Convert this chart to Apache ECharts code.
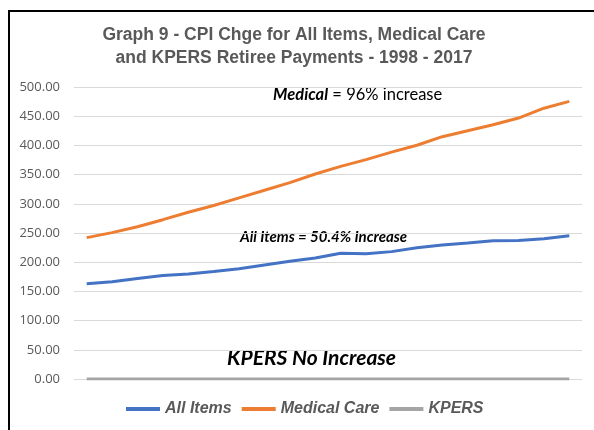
<!DOCTYPE html>
<html>
<head>
<meta charset="utf-8">
<script src="https://cdn.jsdelivr.net/npm/echarts@6/dist/echarts.min.js"></script>
<style>
    html, body { margin: 0; padding: 0; background: #fff; }
    #main { width: 594px; height: 430px; }
</style>
</head>
<body>
<div id="main"></div>
<script type="text/javascript">
    // years 1998 - 2017 (axis labels are hidden in the original)
    var years = ['1998','1999','2000','2001','2002','2003','2004','2005','2006','2007',
                 '2008','2009','2010','2011','2012','2013','2014','2015','2016','2017'];
    var allItems = [163.0, 166.6, 172.2, 177.1, 179.9, 184.0, 188.9, 195.3, 201.6, 207.3,
                    215.3, 214.5, 218.1, 224.9, 229.6, 233.0, 236.7, 237.0, 240.0, 245.1];
    var medicalCare = [242.1, 250.6, 260.8, 272.8, 285.6, 297.1, 310.1, 323.2, 336.2, 351.1,
                       364.1, 375.6, 388.4, 400.3, 414.9, 425.1, 435.3, 446.8, 463.7, 475.3];
    var kpers = [0, 0, 0, 0, 0, 0, 0, 0, 0, 0, 0, 0, 0, 0, 0, 0, 0, 0, 0, 0];

    var chart = echarts.init(document.getElementById('main'));

    var option = {
        backgroundColor: '#fff',
        animation: false,
        color: ['#4472C4', '#ED7D31', '#A5A5A5'],
        title: {
            text: 'Graph 9 - CPI Chge for All Items, Medical Care\nand KPERS Retiree Payments - 1998 - 2017',
            left: 289,
            top: 19,
            textAlign: 'center',
            textStyle: {
                fontFamily: 'Liberation Sans',
                fontSize: 17.5,
                fontWeight: 'bold',
                color: '#595959',
                lineHeight: 23
            }
        },
        legend: {
            bottom: 8,
            left: 121,
            icon: 'rect',
            itemWidth: 34,
            itemHeight: 4,
            itemGap: 10,
            data: ['All Items', 'Medical Care', 'KPERS'],
            textStyle: {
                fontFamily: 'Liberation Sans',
                fontSize: 16,
                fontWeight: 'bold',
                fontStyle: 'italic',
                color: '#595959'
            }
        },
        grid: {
            left: 74,
            right: 12,
            top: 87,
            bottom: 51
        },
        xAxis: {
            type: 'category',
            data: years,
            axisLine: { show: false },
            axisTick: { show: false },
            axisLabel: { show: false }
        },
        yAxis: {
            type: 'value',
            min: 0,
            max: 500,
            interval: 50,
            axisLabel: {
                formatter: function (v) { return v.toFixed(2); },
                fontFamily: 'Open Sans',
                fontSize: 13,
                color: '#595959',
                margin: 14
            },
            splitLine: { lineStyle: { color: '#D9D9D9', width: 1 } }
        },
        series: [
            {
                name: 'All Items',
                type: 'line',
                data: allItems,
                showSymbol: false,
                lineStyle: { width: 3 }
            },
            {
                name: 'Medical Care',
                type: 'line',
                data: medicalCare,
                showSymbol: false,
                lineStyle: { width: 3 }
            },
            {
                name: 'KPERS',
                type: 'line',
                data: kpers,
                showSymbol: false,
                lineStyle: { width: 3 }
            }
        ],
        graphic: [
            {
                type: 'rect',
                silent: true,
                shape: { x: 9, y: 11, width: 700, height: 600 },
                style: { fill: 'none', stroke: '#000', lineWidth: 2 }
            },
            {
                type: 'text',
                left: 273,
                top: 86,
                style: {
                    text: '{b|Medical} = 96% increase',
                    fontFamily: 'Lato',
                    fontSize: 16.5,
                    fill: '#000',
                    rich: {
                        b: { fontFamily: 'Lato', fontSize: 16.5, fontWeight: 'bold', fontStyle: 'italic', fill: '#000' }
                    }
                }
            },
            {
                type: 'text',
                left: 240,
                top: 230,
                style: {
                    text: 'All Items = 50.4% Increase',
                    fontFamily: 'Lato',
                    fontSize: 15,
                    fontWeight: 'bold',
                    fontStyle: 'italic',
                    fill: '#000'
                }
            },
            {
                type: 'text',
                left: 227,
                top: 348,
                style: {
                    text: 'KPERS No Increase',
                    fontFamily: 'Lato',
                    fontSize: 21,
                    fontWeight: 'bold',
                    fontStyle: 'italic',
                    fill: '#000'
                }
            }
        ]
    };

    chart.setOption(option);
</script>
</body>
</html>
